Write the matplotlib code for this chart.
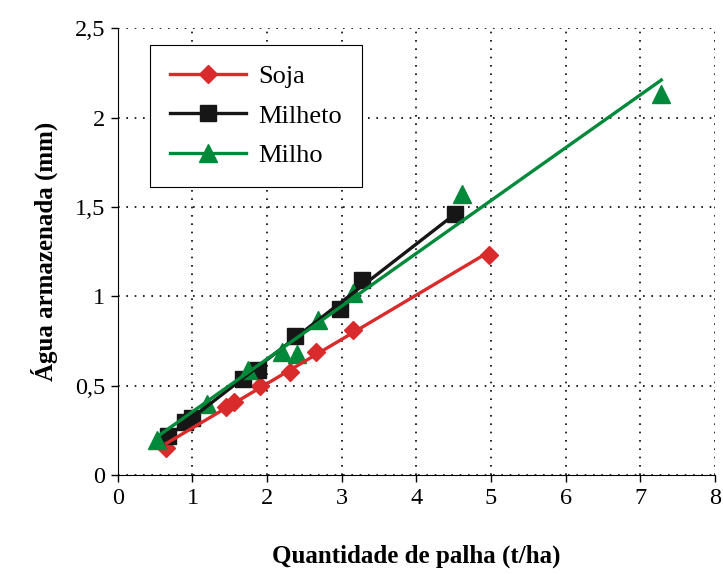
import numpy as np
import matplotlib
matplotlib.use('Agg')
import matplotlib.pyplot as plt
from matplotlib.lines import Line2D

plt.rcParams['font.family'] = ['Liberation Serif', 'DejaVu Serif']

# dados
soja_x = [0.65, 1.45, 1.55, 1.9, 2.3, 2.65, 3.15, 4.97]
soja_y = [0.15, 0.38, 0.41, 0.50, 0.58, 0.69, 0.81, 1.23]

milheto_x = [0.67, 0.9, 1.0, 1.68, 1.88, 2.37, 2.98, 3.27, 4.52]
milheto_y = [0.22, 0.30, 0.32, 0.54, 0.59, 0.78, 0.93, 1.09, 1.46]

milho_x = [0.52, 1.19, 1.74, 2.2, 2.4, 2.68, 3.15, 4.61, 7.28]
milho_y = [0.20, 0.40, 0.59, 0.69, 0.68, 0.87, 1.02, 1.57, 2.13]

xticks = [0, 1, 2, 3, 4, 5, 6, 7, 8]
yticks = [0, 0.5, 1, 1.5, 2, 2.5]
ytick_labels = ['0', '0,5', '1', '1,5', '2', '2,5']

series = [
    ('Soja', soja_x, soja_y, '#d92b2b', 'D', 9),
    ('Milheto', milheto_x, milheto_y, '#161616', 's', 11),
    ('Milho', milho_x, milho_y, '#00893a', '^', 13),
]

fig = plt.figure(figsize=(7.23, 5.74), dpi=100)
ax = fig.add_axes([0.163, 0.172, 0.826, 0.779])

handles = []
for name, xs, ys, cor, mk, ms in series:
    xs = np.array(xs)
    ys = np.array(ys)
    ax.plot(xs, ys, linestyle='none', marker=mk, markersize=ms, color=cor, zorder=3)
    # reta de regressao
    a, b = np.polyfit(xs, ys, 1)
    xl = np.array([xs.min(), xs.max()])
    ax.plot(xl, a * xl + b, color=cor, linewidth=2.4, zorder=4)
    handles.append(Line2D([], [], color=cor, linewidth=2.4, marker=mk, markersize=ms))

ax.set_xlim(0, 8)
ax.set_ylim(0, 2.5)
ax.set_xticks(xticks)
ax.set_yticks(yticks)
ax.set_yticklabels(ytick_labels)
ax.tick_params(labelsize=17.5, direction='out', length=5, width=1, pad=4)
ax.grid(True, color='black', linestyle=(0, (1, 4)), linewidth=1.2)
ax.spines['top'].set_visible(False)
ax.spines['right'].set_visible(False)

ax.set_xlabel('Quantidade de palha (t/ha)', fontsize=18, fontweight='bold', labelpad=26)
ax.set_ylabel('Água armazenada (mm)', fontsize=18, fontweight='bold', labelpad=12)

leg = ax.legend(handles, [s[0] for s in series], loc='upper left',
                bbox_to_anchor=(0.054, 0.962), borderaxespad=0, fontsize=19,
                handlelength=2.9, handletextpad=0.45, fancybox=False, framealpha=1,
                edgecolor='black', borderpad=0.75, labelspacing=0.6)
leg.get_frame().set_linewidth(0.8)

fig.savefig('out.png', dpi=100)
